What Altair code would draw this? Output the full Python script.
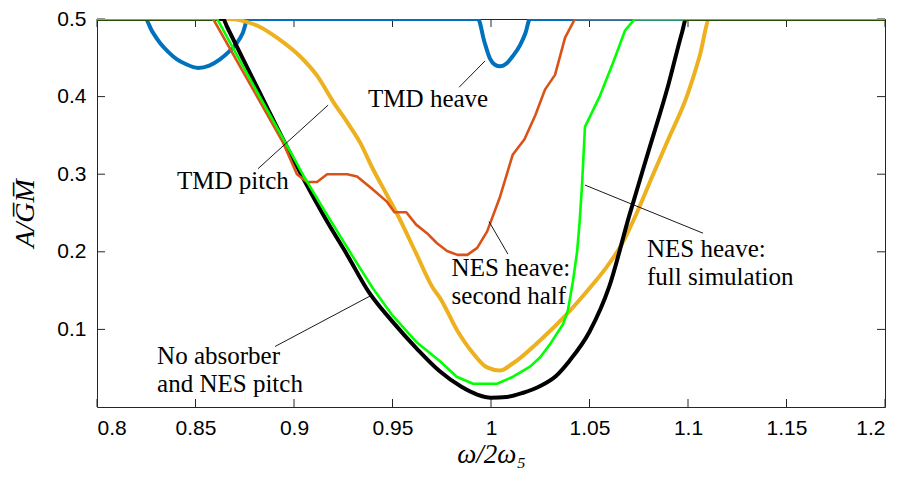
import altair as alt
import pandas as pd

# ---------------- data ----------------
tmd_heave_x = [0.800, 0.8244, 0.828, 0.832, 0.836, 0.8406, 0.845, 0.8513, 0.857, 0.8624, 0.867, 0.871, 0.874, 0.8766,
               0.9934, 0.9965, 0.9995, 1.002, 1.0046, 1.008, 1.011, 1.0147, 1.0175, 1.0198, 1.200]
tmd_heave_y = [0.5, 0.5, 0.484, 0.469, 0.458, 0.448, 0.442, 0.437, 0.440, 0.448, 0.458, 0.469, 0.482, 0.5,
               0.5, 0.472, 0.449, 0.441, 0.439, 0.443, 0.452, 0.466, 0.482, 0.5, 0.5]

tmd_pitch_x = [0.800, 0.8675, 0.875, 0.8825, 0.8929, 0.903, 0.9117, 0.920, 0.927, 0.9335, 0.940, 0.947, 0.9523,
               0.962, 0.9706, 0.974, 0.983, 0.991, 0.998, 1.0046, 1.011, 1.025, 1.0386, 1.050, 1.058, 1.066,
               1.074, 1.082, 1.090, 1.0995, 1.106, 1.111, 1.200]
tmd_pitch_y = [0.5, 0.5, 0.497, 0.490, 0.473, 0.452, 0.427, 0.393, 0.367, 0.341, 0.307, 0.274, 0.249,
               0.198, 0.153, 0.141, 0.098, 0.069, 0.051, 0.047, 0.056, 0.086, 0.120, 0.153, 0.178, 0.208,
               0.250, 0.298, 0.345, 0.401, 0.453, 0.5, 0.5]

no_absorber_x = [0.800, 0.864, 0.866, 0.874, 0.884, 0.894, 0.9046, 0.9168, 0.927, 0.938, 0.950, 0.9624, 0.974,
                 0.985, 0.993, 1.000, 1.008, 1.016, 1.025, 1.033, 1.040, 1.050, 1.060, 1.070, 1.080, 1.090,
                 1.097, 1.099, 1.200]
no_absorber_y = [0.5, 0.5, 0.490, 0.449, 0.398, 0.347, 0.295, 0.239, 0.196, 0.148, 0.110, 0.075, 0.046,
                 0.026, 0.016, 0.012, 0.013, 0.018, 0.027, 0.040, 0.060, 0.097, 0.155, 0.245, 0.330, 0.415,
                 0.483, 0.5, 0.5]

nes_half_x = [0.800, 0.859, 0.8944, 0.9015, 0.9066, 0.9117, 0.9168, 0.927, 0.932, 0.9393, 0.947, 0.951, 0.957,
              0.962, 0.9675, 0.9726, 0.9777, 0.983, 0.988, 0.993, 0.998, 1.0046, 1.011, 1.017, 1.0225, 1.0274,
              1.0325, 1.0376, 1.0426, 1.200]
nes_half_y = [0.5, 0.5, 0.341, 0.300, 0.290, 0.290, 0.300, 0.300, 0.297, 0.282, 0.265, 0.251, 0.251,
              0.235, 0.224, 0.211, 0.201, 0.196, 0.196, 0.205, 0.226, 0.271, 0.325, 0.345, 0.376, 0.409,
              0.428, 0.476, 0.5, 0.5]

nes_full_x = [0.800, 0.861, 0.872, 0.883, 0.894, 0.9046, 0.915, 0.924, 0.932, 0.940, 0.950, 0.9624, 0.9741,
              0.9826, 0.9909, 1.003, 1.0112, 1.0198, 1.025, 1.030, 1.0366, 1.039, 1.0416, 1.0437, 1.045,
              1.0462, 1.0477, 1.0553, 1.062, 1.068, 1.073, 1.200]
nes_full_y = [0.5, 0.5, 0.449, 0.398, 0.348, 0.299, 0.255, 0.218, 0.185, 0.153, 0.118, 0.083, 0.059,
              0.039, 0.030, 0.030, 0.039, 0.052, 0.064, 0.081, 0.107, 0.124, 0.162, 0.200, 0.239,
              0.286, 0.361, 0.401, 0.444, 0.485, 0.5, 0.5]

x_ticks = [0.8, 0.85, 0.9, 0.95, 1.0, 1.05, 1.1, 1.15, 1.2]
y_ticks = [0.1, 0.2, 0.3, 0.4, 0.5]

# annotations (data coordinates)
label_text = ["TMD heave", "TMD pitch", "NES heave:", "second half", "NES heave:", "full simulation",
              "No absorber", "and NES pitch"]
label_x = [0.9376, 0.8406, 0.980, 0.980, 1.0792, 1.0792, 0.8305, 0.8305]
label_y = [0.386, 0.281, 0.169, 0.133, 0.193, 0.157, 0.056, 0.019]

leader_x1 = [0.9838, 0.8817, 1.0086, 1.1076, 0.8904]
leader_y1 = [0.412, 0.307, 0.197, 0.224, 0.078]
leader_x2 = [0.997, 0.9173, 0.999, 1.0477, 0.9386]
leader_y2 = [0.446, 0.389, 0.239, 0.286, 0.143]

# ---------------- chart ----------------
W, H = 788, 388
TL = 8
AXC = "#262626"

xscale = alt.Scale(domain=[0.8, 1.2], nice=False, zero=False)
yscale = alt.Scale(domain=[0.0, 0.5], nice=False, zero=False)
xaxis = alt.Axis(values=x_ticks, format="~g", ticks=False, domain=False, grid=False,
                 labelPadding=10, title="ω/2ω₅", titlePadding=24, titleBaseline="alphabetic",
                 titleFontSize=27)
yaxis = alt.Axis(values=y_ticks, format="~g", ticks=False, domain=False, grid=False,
                 labelPadding=11, title="A/G\u0305M\u0305", titlePadding=17, titleFontSize=28)


def X(field):
    return alt.X(field, type="quantitative", scale=xscale, axis=xaxis)


def Y(field):
    return alt.Y(field, type="quantitative", scale=yscale, axis=yaxis)


xt = pd.DataFrame({"t": x_ticks})
yt = pd.DataFrame({"t": y_ticks})

tick_layers = [
    alt.Chart(xt).mark_rule(color=AXC, strokeWidth=1).encode(x=X("t"), y=alt.value(H), y2=alt.value(H - TL)),
    alt.Chart(xt).mark_rule(color=AXC, strokeWidth=1).encode(x=X("t"), y=alt.value(0), y2=alt.value(TL)),
    alt.Chart(yt).mark_rule(color=AXC, strokeWidth=1).encode(y=Y("t"), x=alt.value(0), x2=alt.value(TL)),
    alt.Chart(yt).mark_rule(color=AXC, strokeWidth=1).encode(y=Y("t"), x=alt.value(W), x2=alt.value(W - TL)),
]

series = [
    (tmd_heave_x, tmd_heave_y, "#0072BD", 4, "monotone"),
    (tmd_pitch_x, tmd_pitch_y, "#EDB120", 4, "monotone"),
    (no_absorber_x, no_absorber_y, "#000000", 4, "monotone"),
    (nes_half_x, nes_half_y, "#D95319", 2.6, "linear"),
    (nes_full_x, nes_full_y, "#00FF00", 2.6, "linear"),
]
line_layers = []
for xs, ys, col, sw, interp in series:
    df = pd.DataFrame({"x": xs, "y": ys})
    line_layers.append(
        alt.Chart(df).mark_line(color=col, strokeWidth=sw, clip=True, strokeJoin="round",
                                strokeCap="butt", interpolate=interp)
        .encode(x=X("x"), y=Y("y"))
    )

leaders = pd.DataFrame({"x1": leader_x1, "y1": leader_y1, "x2": leader_x2, "y2": leader_y2})
leader_layer = alt.Chart(leaders).mark_rule(color="black", strokeWidth=0.9).encode(
    x=X("x1"), y=Y("y1"), x2="x2", y2="y2")

labels = pd.DataFrame({"t": label_text, "x": label_x, "y": label_y})
label_layer = alt.Chart(labels).mark_text(
    align="left", baseline="alphabetic", font="Liberation Serif", fontSize=25, color="black"
).encode(x=X("x"), y=Y("y"), text="t:N")

chart = alt.layer(*tick_layers, *line_layers, leader_layer, label_layer).properties(
    width=W, height=H,
    autosize=alt.AutoSizeParams(type="none"),
    padding={"left": 89, "top": 11, "right": 17, "bottom": 63},
).configure_view(
    stroke=AXC, strokeWidth=1
).configure_axis(
    labelFont="Liberation Sans", labelFontSize=21, labelColor="black",
    titleFont="Liberation Serif", titleFontStyle="italic",
    titleFontWeight="normal", titleColor="black",
)

chart.save("out.html", embed_options={"renderer": "svg", "actions": False})
